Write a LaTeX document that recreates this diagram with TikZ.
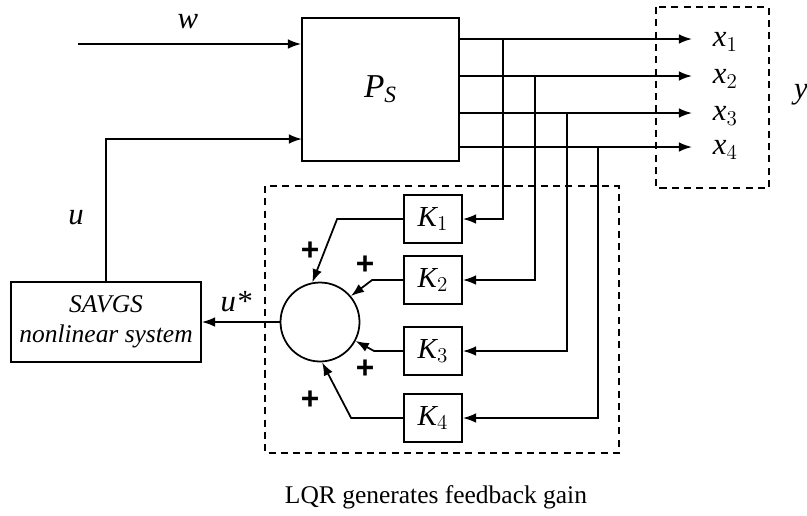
\documentclass[tikz,border=0pt]{standalone}
\usepackage{fontspec}
\setmainfont{Liberation Serif}
\setsansfont{Liberation Sans}
\usepackage{tikz}
\usetikzlibrary{arrows.meta}

\begin{document}
\begin{tikzpicture}[x=0.02cm, y=-0.02cm, line width=1pt, >={Latex[length=7.5pt,width=5.5pt]},
    font=\fontsize{14.5}{17}\selectfont,
    block/.style={draw, rectangle, inner sep=0pt},
    gain/.style={draw, rectangle, minimum width=1.16cm, minimum height=0.96cm, inner sep=0pt, font=\fontsize{16.5}{18}\selectfont},
    frame/.style={draw, dash pattern=on 4pt off 3pt, line width=0.9pt},
    sig/.style={font=\fontsize{17.5}{19}\selectfont},
    plus/.style={inner sep=0pt, font=\fontsize{18}{18}\selectfont\sffamily\bfseries}]
    \useasboundingbox (0,0) rectangle (807,515);

    \node[block, minimum width=3.14cm, minimum height=2.86cm, font=\fontsize{19}{21}\selectfont] (ps) at (380.5,89.5) {$\mathit{P}_{\mathit{S}}$};
    \node[block, minimum width=3.8cm, minimum height=1.6cm, align=center, font=\fontsize{14.5}{17}\itshape] (savgs) at (106,322) {SAVGS\\nonlinear system};
    \node[draw, circle, minimum size=1.58cm, inner sep=0pt] (sum) at (320,322) {};
    \node[gain] (k1) at (433,219) {$\mathit{K}_1$};
    \node[gain] (k2) at (433,280) {$\mathit{K}_2$};
    \node[gain] (k3) at (433,351) {$\mathit{K}_3$};
    \node[gain] (k4) at (433,418) {$\mathit{K}_4$};

    \draw[frame] (265,186) rectangle (619,453);
    \draw[frame] (656,7) rectangle (769,188);

    \coordinate (w0) at (78,44);
    \coordinate (pu) at (302,139);
    \draw[->] (w0) -- (w0 -| ps.west);
    \draw[->] (savgs.north) |- (pu);
    \draw[->] (sum.west) -- (savgs.east);

    \foreach \i/\xx/\yy in {1/503/39, 2/535/76, 3/567/113, 4/598/147} {
        \coordinate (o\i) at (692,\yy);
        \coordinate (b\i) at (\xx,\yy);
        \draw[->] (ps.east |- o\i) -- (o\i);
        \draw[->] (b\i) |- (k\i.east);
        \node[sig, anchor=west, inner sep=0pt] (lx\i) at (712,\yy+3) {$\mathit{x}_{\i}$};
    }

    \draw[->] (k1.west) -- ++(-66,0) -- (sum.101);
    \draw[->] (k2.west) -- ++(-31,0) -- (sum.40);
    \draw[->] (k3.west) -- ++(-29,0) -- (sum.-28);
    \draw[->] (k4.west) -- ++(-52,0) -- (sum.-87);

    \node[plus] (p1) at (310,251) {+};
    \node[plus] (p2) at (365,265) {+};
    \node[plus] (p3) at (365,369) {+};
    \node[plus] (p4) at (310,400) {+};

    \node[sig] (lw) at (188,22) {$\mathit{w}$};
    \node[sig] (lu) at (76,218) {$\mathit{u}$};
    \node[sig] (lus) at (236,302) {\textit{u*}};
    \node[sig] (ly) at (801,95) {$\mathit{y}$};
    \node (cap) at (436,497) {LQR generates feedback gain};
\end{tikzpicture}
\end{document}
